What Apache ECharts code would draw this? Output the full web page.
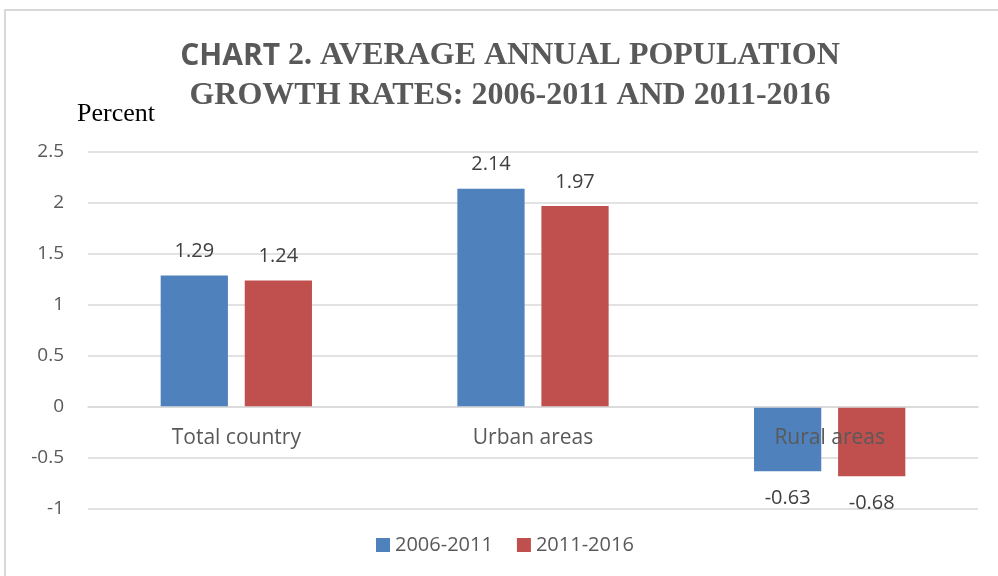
<!DOCTYPE html>
<html>
<head>
<meta charset="utf-8">
<script src="https://cdn.jsdelivr.net/npm/echarts@6/dist/echarts.min.js"></script>
<style>
  html, body { margin: 0; padding: 0; background: #fff; }
  #chart { width: 998px; height: 576px; }
</style>
</head>
<body>
<div id="chart"></div>
<script>
// data
var categories = ['Total country', 'Urban areas', 'Rural areas'];
var seriesNames = ['2006-2011', '2011-2016'];
var rates0611 = [1.29, 2.14, -0.63];
var rates1116 = [1.24, 1.97, -0.68];
var colors = ['#4F81BD', '#C0504D'];

var yMin = -1, yMax = 2.5;
var gridTop = 152, gridBottom = 67;

var sansFont = '"Open Sans", "Noto Sans", sans-serif';
var serifFont = '"Liberation Serif", "DejaVu Serif", serif';

// negative bars get their label under the bar
function toBarData(values) {
  return values.map(function (v) {
    return { value: v, label: { position: v < 0 ? 'bottom' : 'top', distance: v < 0 ? 17 : 14 } };
  });
}

function makeSeries(name, values, color) {
  return {
    name: name,
    type: 'bar',
    z: 1,
    data: toBarData(values),
    barGap: '25%',
    barCategoryGap: '49%',
    itemStyle: { color: color },
    label: {
      show: true,
      color: '#404040',
      fontFamily: sansFont,
      fontSize: 20
    }
  };
}

// category labels sit just under the zero line, like the original
var plotH = 576 - gridTop - gridBottom;
var zeroFromBottom = plotH * (0 - yMin) / (yMax - yMin);

var chart = echarts.init(document.getElementById('chart'));
chart.setOption({
  animation: false,
  backgroundColor: '#fff',
  graphic: [{
    type: 'rect',
    shape: { x: 5, y: 10, width: 1010, height: 600 },
    style: { fill: 'none', stroke: '#d9d9d9', lineWidth: 2 },
    silent: true
  }, {
    type: 'text',
    left: 77,
    top: 101,
    style: { text: 'Percent', fontFamily: serifFont, fontSize: 26, fill: '#000' }
  }, {
    type: 'text',
    x: 510,
    y: 36,
    style: {
      text: '{a|CHART}{b| 2. AVERAGE ANNUAL POPULATION}\n{b|GROWTH RATES: 2006-2011 AND 2011-2016}',
      align: 'center',
      rich: {
        a: { fontFamily: sansFont, fontWeight: 'bold', fontSize: 30, fill: '#595959', lineHeight: 40 },
        b: { fontFamily: serifFont, fontWeight: 'bold', fontSize: 32, fill: '#595959', lineHeight: 40 }
      }
    }
  }],
  legend: {
    bottom: 16,
    left: 371,
    itemWidth: 14,
    itemHeight: 14,
    itemGap: 24,
    icon: 'rect',
    textStyle: { color: '#595959', fontFamily: sansFont, fontSize: 20 },
    data: seriesNames
  },
  grid: { left: 88, right: 20, top: gridTop, bottom: gridBottom, containLabel: false },
  xAxis: {
    type: 'category',
    data: categories,
    offset: -zeroFromBottom,
    z: 5,
    axisLine: { onZero: false, lineStyle: { color: '#d9d9d9', width: 1.5 } },
    axisTick: { show: false },
    axisLabel: { color: '#595959', fontFamily: sansFont, fontSize: 21, margin: 21 }
  },
  yAxis: {
    type: 'value',
    min: yMin,
    max: yMax,
    interval: 0.5,
    axisLine: { show: false },
    axisTick: { show: false },
    axisLabel: { color: '#595959', fontFamily: sansFont, fontSize: 19, margin: 24 },
    splitLine: { lineStyle: { color: '#d9d9d9', width: 1.5 } }
  },
  series: [
    makeSeries(seriesNames[0], rates0611, colors[0]),
    makeSeries(seriesNames[1], rates1116, colors[1])
  ]
});
</script>
</body>
</html>
